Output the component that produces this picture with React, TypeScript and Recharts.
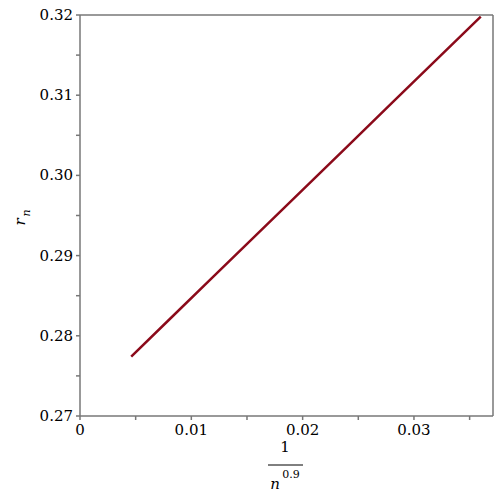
import { LineChart, Line, XAxis, YAxis, ReferenceLine } from 'recharts'

// 1/n^0.9 against r_n
const xValues = [0.0046, 0.008, 0.012, 0.016, 0.02, 0.024, 0.028, 0.032, 0.036]
const rValues = [0.2774, 0.282, 0.2874, 0.2928, 0.2982, 0.3036, 0.309, 0.3144, 0.3198]

const xTicks = [0, 0.005, 0.01, 0.015, 0.02, 0.025, 0.03, 0.035]
const yTicks = [0.27, 0.275, 0.28, 0.285, 0.29, 0.295, 0.3, 0.305, 0.31, 0.315, 0.32]

const X_MAX = 0.0371
const data = xValues.map((x, i) => ({ x, r: rValues[i] }))

const axisColor = '#777'
const font = "'DejaVu Serif', serif"

function isMajor(v: number) {
  return Math.round(v * 1000) % 10 === 0
}

function formatTick(v: number) {
  if (!isMajor(v)) return ''
  return v === 0 ? '0' : v.toFixed(2)
}

function XLabel() {
  return (
    <g fill="#000">
      <text x={285} y={452} textAnchor="middle" fontSize={15} fontFamily={font}>1</text>
      <line x1={268} x2={303} y1={465} y2={465} stroke="#000" strokeWidth={1} />
      <text x={275} y={489} textAnchor="middle" fontSize={15} fontStyle="italic" fontFamily={font}>n</text>
      <text x={291} y={478} textAnchor="middle" fontSize={11} fontFamily={font}>0.9</text>
    </g>
  )
}

function YLabel() {
  return (
    <g fill="#000" transform="translate(25, 222) rotate(-90)">
      <text x={0} y={0} textAnchor="middle" fontSize={15} fontStyle="italic" fontFamily={font}>r</text>
      <text x={9} y={5} textAnchor="middle" fontSize={11} fontStyle="italic" fontFamily={font}>n</text>
    </g>
  )
}

function Tick(props: any) {
  const { x, y, payload, textAnchor, verticalAnchor } = props
  const label = formatTick(payload.value)
  if (!label) return null
  const dy = verticalAnchor === 'start' ? 12 : 5
  return (
    <text x={x} y={y + dy} textAnchor={textAnchor} fontSize={15} fill="#000" fontFamily={font}>
      {label}
    </text>
  )
}

export default function App() {
  return (
    <div style={{ position: 'absolute', left: 0, top: 0, width: 500, height: 500, background: '#fff' }}>
      <LineChart width={500} height={500} data={data} margin={{ top: 15, right: 7, left: 0, bottom: 0 }}>
        <XAxis
          type="number"
          dataKey="x"
          domain={[0, X_MAX]}
          ticks={xTicks}
          allowDataOverflow
          height={84}
          stroke={axisColor}
          strokeWidth={1.5}
          tickSize={4}
          tickMargin={3}
          tick={<Tick />}
          label={<XLabel />}
        />
        <YAxis
          type="number"
          dataKey="r"
          domain={[0.27, 0.32]}
          ticks={yTicks}
          allowDataOverflow
          width={80}
          stroke={axisColor}
          strokeWidth={1.5}
          tickSize={4}
          tickMargin={3}
          tick={<Tick />}
          label={<YLabel />}
        />
        <ReferenceLine y={0.32} stroke={axisColor} strokeWidth={1.5} />
        <ReferenceLine x={X_MAX} stroke={axisColor} strokeWidth={1.5} />
        <Line
          type="linear"
          dataKey="r"
          stroke="#8b0a1a"
          strokeWidth={2.5}
          dot={false}
          isAnimationActive={false}
        />
      </LineChart>
    </div>
  )
}
